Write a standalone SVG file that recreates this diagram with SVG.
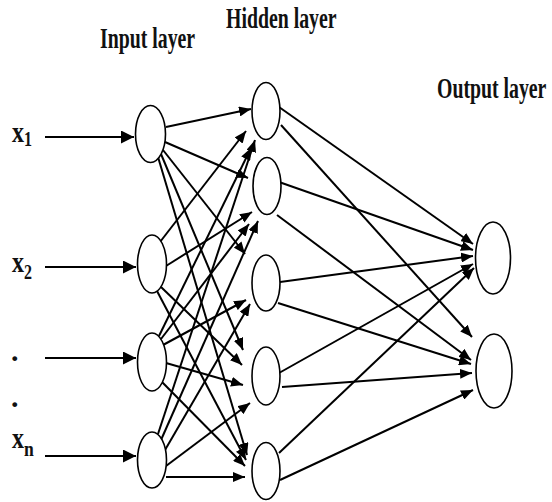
<svg xmlns="http://www.w3.org/2000/svg" width="552" height="502" viewBox="0 0 552 502">
<style>
.lbl{font-family:"Liberation Serif","Times New Roman",serif;font-weight:bold;font-size:30px;fill:#111}
.var{font-family:"Liberation Serif","Times New Roman",serif;font-weight:bold;font-size:30px;fill:#111}
.node{fill:#fff;stroke:#000;stroke-width:1.6}
.c{stroke:#000;stroke-width:2;fill:none;marker-end:url(#ah)}
.in{stroke:#000;stroke-width:2.2;fill:none;marker-end:url(#ahBig)}
</style>
<defs>
<marker id="ah" markerUnits="userSpaceOnUse" markerWidth="13" markerHeight="10" refX="12" refY="5" orient="auto">
<path d="M0,0 L12,5 L0,10 z" fill="#000"/>
</marker>
<marker id="ahBig" markerUnits="userSpaceOnUse" markerWidth="14" markerHeight="13" refX="13" refY="6.5" orient="auto">
<path d="M0,0 L13,6.5 L0,13 z" fill="#000"/>
</marker>
</defs>
<rect width="552" height="502" fill="#fff"/>

<g id="labels">
<text class="lbl" transform="translate(100,48) scale(0.66,1)">Input layer</text>
<text class="lbl" transform="translate(226,28) scale(0.66,1)">Hidden layer</text>
<text class="lbl" transform="translate(437,98) scale(0.66,1)">Output layer</text>
<text class="var" transform="translate(12,142) scale(0.8,1)">x<tspan font-size="20" dy="4">1</tspan></text>
<text class="var" transform="translate(12,272) scale(0.8,1)">x<tspan font-size="20" dy="7">2</tspan></text>
<text class="var" x="11" y="361">.</text>
<text class="var" x="11" y="407">.</text>
<text class="var" transform="translate(12,448) scale(0.8,1)">x<tspan font-size="22" dy="8">n</tspan></text>
</g>

<g id="connectors">
<line class="in" x1="45" y1="137" x2="134" y2="137"/>
<line class="in" x1="45" y1="267" x2="136" y2="267"/>
<line class="in" x1="45" y1="358" x2="136" y2="358"/>
<line class="in" x1="45" y1="456" x2="136" y2="456"/>

<line class="c" x1="166" y1="127" x2="251" y2="109"/>
<line class="c" x1="165" y1="142" x2="248" y2="178"/>
<line class="c" x1="163" y1="150" x2="245" y2="254"/>
<line class="c" x1="161" y1="154" x2="243" y2="350"/>
<line class="c" x1="158" y1="157" x2="247" y2="455"/>

<line class="c" x1="160" y1="242" x2="246" y2="131"/>
<line class="c" x1="166" y1="266" x2="252" y2="212"/>
<line class="c" x1="161" y1="287" x2="242" y2="365"/>
<line class="c" x1="157" y1="291" x2="246" y2="460"/>

<line class="c" x1="159" y1="336" x2="251" y2="148"/>
<line class="c" x1="161" y1="339" x2="249" y2="224"/>
<line class="c" x1="163" y1="345" x2="246" y2="300"/>
<line class="c" x1="166" y1="363" x2="243" y2="385"/>
<line class="c" x1="162" y1="382" x2="245" y2="466"/>

<line class="c" x1="158" y1="434" x2="255" y2="140"/>
<line class="c" x1="161" y1="440" x2="258" y2="221"/>
<line class="c" x1="165" y1="450" x2="250" y2="304"/>
<line class="c" x1="166" y1="466" x2="250" y2="403"/>
<line class="c" x1="166" y1="477" x2="245" y2="477"/>

<line class="c" x1="279" y1="107" x2="473" y2="244"/>
<line class="c" x1="281" y1="125" x2="472" y2="337"/>
<line class="c" x1="279" y1="182" x2="473" y2="250"/>
<line class="c" x1="277" y1="215" x2="471" y2="360"/>
<line class="c" x1="280" y1="282" x2="473" y2="256"/>
<line class="c" x1="278" y1="303" x2="471" y2="364"/>
<line class="c" x1="279" y1="373" x2="473" y2="264"/>
<line class="c" x1="282" y1="387" x2="472" y2="373"/>
<line class="c" x1="279" y1="453" x2="474" y2="268"/>
<line class="c" x1="280" y1="480" x2="473" y2="390"/>
</g>

<g id="in1"><ellipse class="node" cx="150.5" cy="134" rx="15" ry="28.5"/></g>
<g id="in2"><ellipse class="node" cx="152" cy="264" rx="14.5" ry="29"/></g>
<g id="in3"><ellipse class="node" cx="152" cy="362" rx="14.5" ry="29"/></g>
<g id="in4"><ellipse class="node" cx="152" cy="460" rx="14.5" ry="28"/></g>

<g id="h1"><ellipse class="node" cx="266" cy="111" rx="14" ry="28.5"/></g>
<g id="h2"><ellipse class="node" cx="267" cy="186" rx="14" ry="28.5"/></g>
<g id="h3"><ellipse class="node" cx="266" cy="283" rx="14" ry="28"/></g>
<g id="h4"><ellipse class="node" cx="266" cy="376" rx="14" ry="29"/></g>
<g id="h5"><ellipse class="node" cx="266" cy="471" rx="14" ry="28.5"/></g>

<g id="out1"><ellipse class="node" cx="493" cy="258" rx="17.5" ry="36"/></g>
<g id="out2"><ellipse class="node" cx="494" cy="371" rx="18" ry="37"/></g>
</svg>
